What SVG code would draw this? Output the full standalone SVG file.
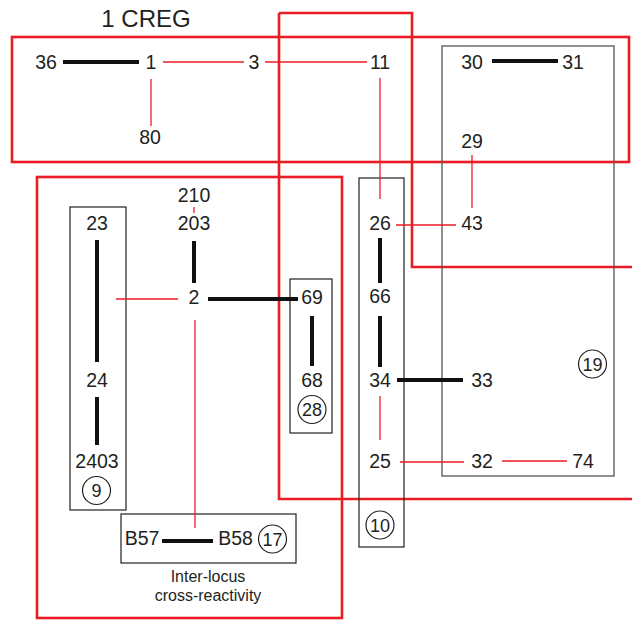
<svg xmlns="http://www.w3.org/2000/svg" width="632" height="620" viewBox="0 0 632 620">
<style>
text{font-family:"Liberation Sans",Arial,sans-serif;fill:#231f20;text-anchor:middle}
.n{font-size:19.5px}
.c{font-size:18px}
.s{font-size:16px}
.t{font-size:24px}
.reg{fill:none;stroke:#ec1c24;stroke-width:2.6}
.box{fill:none;stroke:#231f20;stroke-width:1.2}
.gbox{fill:none;stroke:#555;stroke-width:1.3}
.k{stroke:#111;stroke-width:4;fill:none}
.r{stroke:#ec1c24;stroke-width:1.3;fill:none}
.ci{fill:none;stroke:#231f20;stroke-width:1.2}
</style>
<g id="regions">
<rect class="reg" x="12" y="37" width="617" height="125"/>
<path class="reg" d="M279,13 H412 V267 H634 M634,499 H279 V13"/>
<rect class="reg" x="37" y="177" width="305" height="441"/>
</g>
<g id="groups">
<rect class="box" x="70" y="207" width="56" height="303"/>
<rect class="box" x="290" y="279" width="42" height="154"/>
<rect class="box" x="121" y="514" width="175" height="49"/>
<rect class="box" x="359" y="178" width="45" height="369"/>
<rect class="gbox" x="442" y="46" width="172" height="430"/>
</g>
<g id="connectors">
<line class="k" x1="63" y1="62" x2="139" y2="62"/>
<line class="k" x1="492" y1="61" x2="558" y2="61"/>
<line class="k" x1="194" y1="241" x2="194" y2="283"/>
<line class="k" x1="208" y1="299" x2="298" y2="299"/>
<line class="k" x1="97" y1="240" x2="97" y2="362"/>
<line class="k" x1="97" y1="397" x2="97" y2="445"/>
<line class="k" x1="312" y1="316" x2="312" y2="366"/>
<line class="k" x1="162" y1="541" x2="213" y2="541"/>
<line class="k" x1="380" y1="238" x2="380" y2="283"/>
<line class="k" x1="380" y1="316" x2="380" y2="367"/>
<line class="k" x1="397" y1="380" x2="463" y2="380"/>
<line class="r" x1="163" y1="62" x2="244" y2="62"/>
<line class="r" x1="265" y1="62" x2="367" y2="62"/>
<line class="r" x1="151" y1="79" x2="151" y2="126"/>
<line class="r" x1="380" y1="78" x2="380" y2="199"/>
<line class="r" x1="472" y1="155" x2="472" y2="208"/>
<line class="r" x1="396" y1="225" x2="456" y2="225"/>
<line class="r" x1="194" y1="207" x2="194" y2="213"/>
<line class="r" x1="116" y1="299" x2="178" y2="299"/>
<line class="r" x1="195" y1="320" x2="195" y2="528"/>
<line class="r" x1="380" y1="396" x2="380" y2="440"/>
<line class="r" x1="400" y1="462" x2="464" y2="462"/>
<line class="r" x1="502" y1="461" x2="567" y2="461"/>
</g>
<g id="title"><text class="t" x="146" y="27">1 CREG</text></g>
<g id="n36"><text class="n" x="46" y="69">36</text></g>
<g id="n1"><text class="n" x="151" y="69">1</text></g>
<g id="n3"><text class="n" x="254" y="69">3</text></g>
<g id="n11"><text class="n" x="380" y="69">11</text></g>
<g id="n80"><text class="n" x="150" y="144">80</text></g>
<g id="n30"><text class="n" x="472" y="69">30</text></g>
<g id="n31"><text class="n" x="573" y="69">31</text></g>
<g id="n29"><text class="n" x="472" y="148">29</text></g>
<g id="n43"><text class="n" x="472" y="230">43</text></g>
<g id="n26"><text class="n" x="380" y="230">26</text></g>
<g id="n210"><text class="n" x="194" y="202">210</text></g>
<g id="n203"><text class="n" x="194" y="230">203</text></g>
<g id="n23"><text class="n" x="97" y="230">23</text></g>
<g id="n2"><text class="n" x="194" y="304">2</text></g>
<g id="n69"><text class="n" x="312" y="304">69</text></g>
<g id="n24"><text class="n" x="97" y="387">24</text></g>
<g id="n68"><text class="n" x="312" y="387">68</text></g>
<g id="c28"><circle class="ci" cx="312" cy="409.5" r="14"/><text class="c" x="312" y="416">28</text></g>
<g id="n2403"><text class="n" x="97" y="468">2403</text></g>
<g id="c9"><circle class="ci" cx="96.5" cy="490.5" r="14"/><text class="c" x="96.5" y="497">9</text></g>
<g id="nB57"><text class="n" x="142" y="545">B57</text></g>
<g id="nB58"><text class="n" x="235.5" y="545">B58</text></g>
<g id="c17"><circle class="ci" cx="272.5" cy="539" r="14"/><text class="c" x="272.5" y="545.5">17</text></g>
<g id="label"><text class="s" x="208" y="582">Inter-locus</text><text class="s" x="208" y="601">cross-reactivity</text></g>
<g id="n66"><text class="n" x="380" y="303">66</text></g>
<g id="n34"><text class="n" x="380" y="387">34</text></g>
<g id="n33"><text class="n" x="482" y="387">33</text></g>
<g id="c19"><circle class="ci" cx="592.5" cy="364" r="14"/><text class="c" x="592.5" y="370.5">19</text></g>
<g id="n25"><text class="n" x="380" y="468">25</text></g>
<g id="n32"><text class="n" x="482" y="468">32</text></g>
<g id="n74"><text class="n" x="583" y="468">74</text></g>
<g id="c10"><circle class="ci" cx="380" cy="525" r="14"/><text class="c" x="380" y="531.5">10</text></g>
</svg>
